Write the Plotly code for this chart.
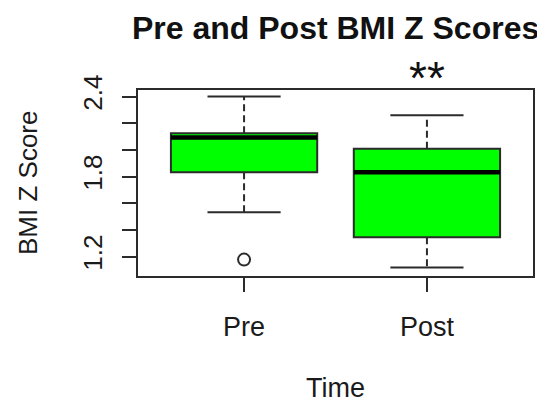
import plotly.graph_objects as go

# ---- data ----
groups = ["Pre", "Post"]
positions = [1, 2]
q1 = [1.832, 1.345]
median = [2.093, 1.832]
q3 = [2.125, 2.008]
lower_whisker = [1.532, 1.117]
upper_whisker = [2.400, 2.260]
outlier_pos = [1]
outlier_val = [1.177]

y_tickvals = [1.2, 1.4, 1.6, 1.8, 2.0, 2.2, 2.4]
y_ticktext = ["1.2", "", "", "1.8", "", "", "2.4"]

title_text = "Pre and Post BMI Z Scores"
x_title = "Time"
y_title = "BMI Z Score"
signif_text = "**"
signif_group = 2

FONT = "Liberation Sans, Arial, sans-serif"
LINE = "#2b2b2b"
BOX_W = 0.8
CAP_W = 0.4

fig = go.Figure()

# boxes (Q1..Q3)
fig.add_trace(go.Bar(
    x=positions, base=q1, y=[b - a for a, b in zip(q1, q3)], width=BOX_W,
    marker=dict(color="#00ff00", line=dict(color=LINE, width=2)),
    hoverinfo="skip", showlegend=False,
))

# whiskers (dashed)
wx, wy = [], []
for p, a, b, lo, hi in zip(positions, q1, q3, lower_whisker, upper_whisker):
    wx += [p, p, None, p, p, None]
    wy += [b, hi, None, a, lo, None]
fig.add_trace(go.Scatter(x=wx, y=wy, mode="lines",
                         line=dict(color=LINE, width=2, dash="7px,4px"),
                         hoverinfo="skip", showlegend=False))

# whisker caps
cx, cy = [], []
for p, lo, hi in zip(positions, lower_whisker, upper_whisker):
    cx += [p - CAP_W / 2, p + CAP_W / 2, None, p - CAP_W / 2, p + CAP_W / 2, None]
    cy += [hi, hi, None, lo, lo, None]
fig.add_trace(go.Scatter(x=cx, y=cy, mode="lines",
                         line=dict(color=LINE, width=2),
                         hoverinfo="skip", showlegend=False))

# medians
mx, my = [], []
for p, m in zip(positions, median):
    mx += [p - BOX_W / 2, p + BOX_W / 2, None]
    my += [m, m, None]
fig.add_trace(go.Scatter(x=mx, y=my, mode="lines",
                         line=dict(color="#000000", width=4.5),
                         hoverinfo="skip", showlegend=False))

# outliers
fig.add_trace(go.Scatter(x=outlier_pos, y=outlier_val, mode="markers",
                         marker=dict(symbol="circle-open", size=12,
                                     color=LINE, line=dict(width=2)),
                         hoverinfo="skip", showlegend=False))

fig.update_layout(
    width=537, height=394,
    margin=dict(l=130, r=10, t=82, b=126, pad=0),
    paper_bgcolor="white", plot_bgcolor="white",
    font=dict(family=FONT, color="#1a1a1a", size=27),
    showlegend=False,
    xaxis=dict(range=[0.42, 2.58], tickvals=positions, ticktext=groups,
               showgrid=False, zeroline=False, showline=True, mirror=True,
               linecolor=LINE, linewidth=2,
               ticks="outside", ticklen=14, tickwidth=2, tickcolor=LINE,
               tickfont=dict(size=27, color="#1a1a1a"),
               ticklabelstandoff=12),
    yaxis=dict(range=[1.054, 2.449], tickvals=y_tickvals, ticktext=y_ticktext,
               showgrid=False, zeroline=False, showline=True, mirror=True,
               linecolor=LINE, linewidth=2,
               ticks="outside", ticklen=14, tickwidth=2, tickcolor=LINE,
               tickangle=-90, tickfont=dict(size=26, color="#1a1a1a"),
               ticklabelstandoff=10),
    annotations=[
        dict(text="<b>" + title_text + "</b>", xref="paper", yref="paper",
             x=0.5, y=1, xanchor="center", yanchor="middle", yshift=62,
             xshift=0, showarrow=False, font=dict(size=32, color="#111111")),
        dict(text=signif_text, xref="x", yref="paper", x=signif_group, y=1,
             xanchor="center", yanchor="middle", yshift=12, showarrow=False,
             font=dict(size=46, color="#111111")),
        dict(text=x_title, xref="paper", yref="paper", x=0.5, y=0,
             xanchor="center", yanchor="middle", yshift=-112, showarrow=False,
             font=dict(size=27, color="#1a1a1a")),
        dict(text=y_title, xref="paper", yref="paper", x=0, y=0.5,
             xanchor="center", yanchor="middle", xshift=-110, textangle=-90,
             showarrow=False, font=dict(size=26, color="#1a1a1a")),
    ],
)

fig.write_html("out.html")
